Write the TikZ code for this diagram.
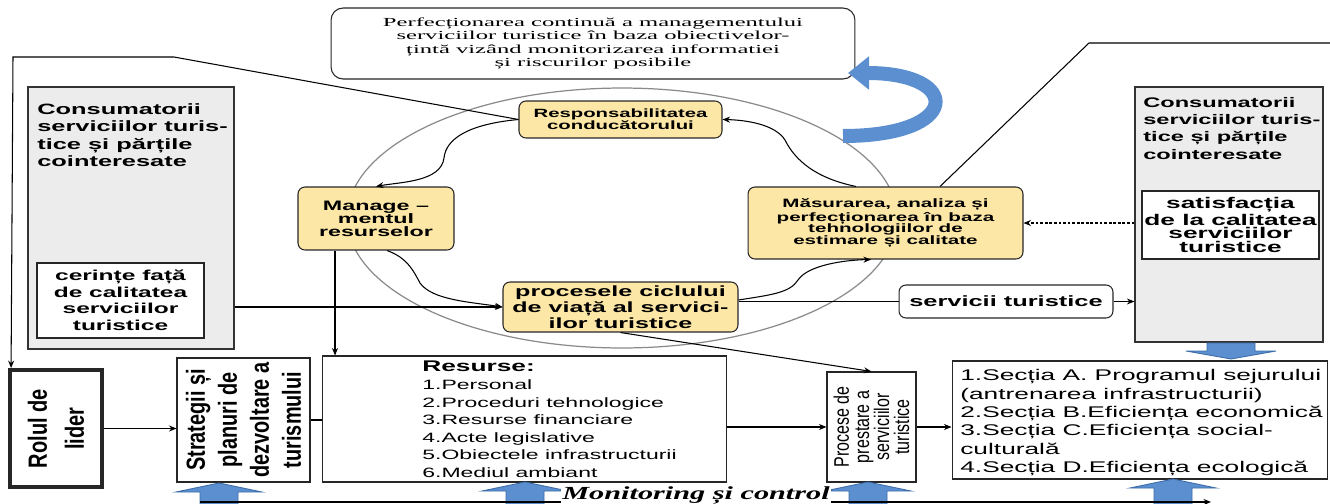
\documentclass[tikz,border=0pt]{standalone}
\usepackage{fontspec}
\setmainfont{Liberation Sans}
\newfontfamily\widesf[FakeStretch=1.7]{Liberation Sans}
\newfontfamily\tallsf[FakeStretch=0.76]{Liberation Sans}
\newfontfamily\wideserif[FakeStretch=2.0]{Liberation Serif}
\newfontfamily\monserif[FakeStretch=1.64]{Liberation Serif}
\newcommand{\fsz}[2]{\fontsize{#1}{#2}\selectfont}
\usetikzlibrary{arrows.meta}
\definecolor{ybfill}{HTML}{FDE7A6}
\definecolor{gbfill}{HTML}{ECECEC}
\definecolor{blfill}{HTML}{5B8FD0}
\definecolor{bldraw}{HTML}{3C6DA8}
\definecolor{orbgray}{HTML}{8A8A8A}

\begin{document}
\begin{tikzpicture}[x=0.02cm, y=-0.02cm]
    \tikzset{
      ybox/.style={draw=black!85, fill=ybfill, rounded corners=0.14cm,
        align=center, inner sep=1pt, line width=0.6pt},
      wbox/.style={draw=black!85, fill=white, align=center, inner sep=1pt, line width=0.6pt},
      gbox/.style={draw=black!80, fill=gbfill, line width=0.7pt},
      txt/.style={inner sep=0pt, align=left},
      arr/.style={-{Stealth[length=1.5mm, width=1.2mm]}, line width=0.6pt},
      conn/.style={line width=0.6pt},
      blk/.style={fill=blfill, draw=bldraw, line width=0.5pt},
      orbit/.style={draw=orbgray, line width=0.7pt},
      bluebend/.style={draw=blfill, line width=0.28cm,
        -{Triangle[length=0.42cm, width=0.64cm]}}
    }
    \useasboundingbox (0,0) rectangle (1330,504);
    \clip (0,0) rectangle (1330,504);
    \draw[orbit] (622,218) ellipse [x radius=5.5cm, y radius=2.6cm];

    \node[wbox, rounded corners=0.24cm, minimum width=10.48cm, minimum height=1.42cm,
      font={\wideserif\fsz{7}{7.7}}] (goal) at (593,43.5)
      {Perfecționarea continuă a managementului\\serviciilor turistice în baza obiectivelor-\\țintă vizând monitorizarea informatiei\\și riscurilor posibile};
    \draw[bluebend] (843,136) .. controls (962,136) and (962,73) .. (848,73);

    \node[ybox, minimum width=4.06cm, minimum height=0.74cm,
      font={\widesf\bfseries\fsz{6.8}{6.8}}] (resp) at (620.5,119.5)
      {Responsabilitatea\\conducătorului};
    \node[ybox, minimum width=3.12cm, minimum height=1.26cm,
      font={\widesf\bfseries\fsz{7.8}{7.4}}] (mng) at (376,218.5)
      {Manage –\\mentul\\resurselor};
    \node[ybox, minimum width=4.7cm, minimum height=1cm,
      font={\widesf\bfseries\fsz{8.4}{7.6}}] (proc) at (620.5,307)
      {procesele ciclului\\de viață al servici-\\ilor turistice};
    \node[ybox, minimum width=5.5cm, minimum height=1.44cm,
      font={\widesf\bfseries\fsz{6.9}{6.7}}] (mas) at (885.5,223)
      {Măsurarea, analiza și\\perfecționarea în baza\\tehnologiilor de\\estimare și calitate};
    \node[wbox, rounded corners=0.14cm, minimum width=4.28cm, minimum height=0.66cm,
      font={\widesf\bfseries\fsz{8.5}{9}}] (serv) at (1006,301.5) {servicii turistice};

    \node[gbox, minimum width=4.12cm, minimum height=5.24cm] (lgray) at (131,218) {};
    \node[txt, anchor=north west, font={\widesf\bfseries\fsz{8.5}{10}}] (ltxt) at (37,103)
      {Consumatorii\\serviciilor turis-\\tice și părțile\\cointeresate};
    \node[wbox, minimum width=3.34cm, minimum height=1.5cm,
      font={\widesf\bfseries\fsz{8.2}{9.4}}] (lreq) at (120.5,300.5)
      {cerințe față\\de calitatea\\serviciilor\\turistice};

    \node[gbox, minimum width=3.76cm, minimum height=5.1cm] (rgray) at (1229,214.5) {};
    \node[txt, anchor=north west, font={\widesf\bfseries\fsz{7.9}{9.8}}] (rtxt) at (1143,97)
      {Consumatorii\\serviciilor turis-\\tice și părțile\\cointeresate};
    \node[wbox, minimum width=3.54cm, minimum height=1.36cm,
      font={\widesf\bfseries\fsz{8.8}{7.6}}] (rsat) at (1230.5,225)
      {satisfacția\\de la calitatea\\serviciilor\\turistice};

    \node[wbox, line width=2.2pt, minimum width=1.84cm, minimum height=2.34cm] (rolul) at (56,428.5) {};
    \node[txt, align=center, rotate=90, font={\tallsf\bfseries\fsz{15}{21}}] (roltxt) at (rolul.center)
      {Rolul de\\lider};
    \node[wbox, minimum width=2.66cm, minimum height=2.48cm] (strat) at (243.5,420) {};
    \node[txt, align=center, rotate=90, font={\tallsf\bfseries\fsz{14.9}{18.2}}] (strtxt) at (strat.center)
      {Strategii și\\planuri de\\dezvoltare a\\turismului};
    \node[wbox, minimum width=8.1cm, minimum height=2.52cm] (res) at (524.5,419) {};
    \node[txt, anchor=north west, font={\widesf\fsz{7.7}{10}}] (restxt) at (422,361)
      {{\bfseries\fsz{8.8}{10}Resurse:}\\1.Personal\\2.Proceduri tehnologice\\3.Resurse financiare\\4.Acte legislative\\5.Obiectele infrastructurii\\6.Mediul ambiant};
    \node[wbox, minimum width=1.78cm, minimum height=2.2cm] (prest) at (871.5,427) {};
    \node[txt, align=center, rotate=90, font={\tallsf\fsz{12}{11.4}}] (prtxt) at (prest.center)
      {Procese de\\prestare a\\serviciilor\\turistice};
    \node[wbox, minimum width=7.52cm, minimum height=2.36cm] (sect) at (1140,420) {};
    \node[txt, anchor=north west, font={\widesf\fsz{8.8}{10.5}}] (secttxt) at (960,369)
      {1.Secția A. Programul sejurului\\(antrenarea infrastructurii)\\2.Secția B.Eficiența economică\\3.Secția C.Eficiența social-\\culturală\\4.Secția D.Eficiența ecologică};

    \draw[arr] (resp.west) -- (174,57) -- (13,57) -- ([xshift=0.06cm]rolul.north west);
    \draw[arr] (resp.west) .. controls (470,124) and (446,138) .. (444,158)
      .. controls (441,182) and (400,182) .. (mng.north);
    \draw[arr] ([xshift=0.22cm]mng.south) .. controls (408,258) and (414,272) .. (420,283)
      .. controls (432,300) and (470,302) .. (proc.west);
    \draw[arr] ([xshift=-0.82cm]mng.south) -- ([xshift=-0.82cm]mng.south |- res.north);
    \draw[arr] (lgray.east |- proc.west) -- (proc.west);
    \draw[conn] (proc.east |- serv.west) -- (serv.west);
    \draw[arr] (serv.east) -- (serv.east -| rgray.west);
    \draw[arr, dash pattern=on 1.6pt off 1pt] (rgray.west |- mas.east) -- (mas.east);
    \draw[arr] ([xshift=-0.59cm]mas.north) .. controls (815,178) and (795,160) .. (785,140)
      .. controls (775,124) and (745,120) .. (resp.east);
    \draw[arr] ([yshift=0.14cm]proc.east) .. controls (770,295) and (790,293) .. (798,280)
      .. controls (808,265) and (845,260) .. ([xshift=-0.29cm]mas.south);
    \coordinate (redge) at (1330,43);
    \draw[conn] ([xshift=1.09cm]mas.north) -- (1089,43) -- (redge);
    \draw[arr] (proc.south) -- (prest.north);
    \draw[arr] (rolul.east) -- (rolul.east -| strat.west);
    \draw[conn] (strat.east) -- (strat.east -| res.west);
    \draw[arr] (prest.west -| res.east) -- (prest.west);
    \draw[arr] (prest.east) -- (prest.east -| sect.west);

    \draw[blk] (1207,343) -- (1255,343) -- (1255,351) -- (1276,351) -- (1231,359)
      -- (1186,351) -- (1207,351) -- cycle;
    \foreach \ax/\at in {219/483, 525/482, 868/482, 1173/479}
      \draw[blk] (\ax-19,510) -- (\ax-19,\at+9) -- (\ax-43,\at+9) -- (\ax,\at)
        -- (\ax+43,\at+9) -- (\ax+19,\at+9) -- (\ax+19,510) -- cycle;

    \coordinate (mleft) at (200,502);
    \coordinate (mright) at (1211,502);
    \draw[arr] (mleft) -- (mright);
    \node[fill=white, inner sep=1pt, anchor=base, font={\monserif\bfseries\itshape\fsz{10.5}{10.5}}] (mon) at (696,499)
      {Monitoring și control};
\end{tikzpicture}
\end{document}
